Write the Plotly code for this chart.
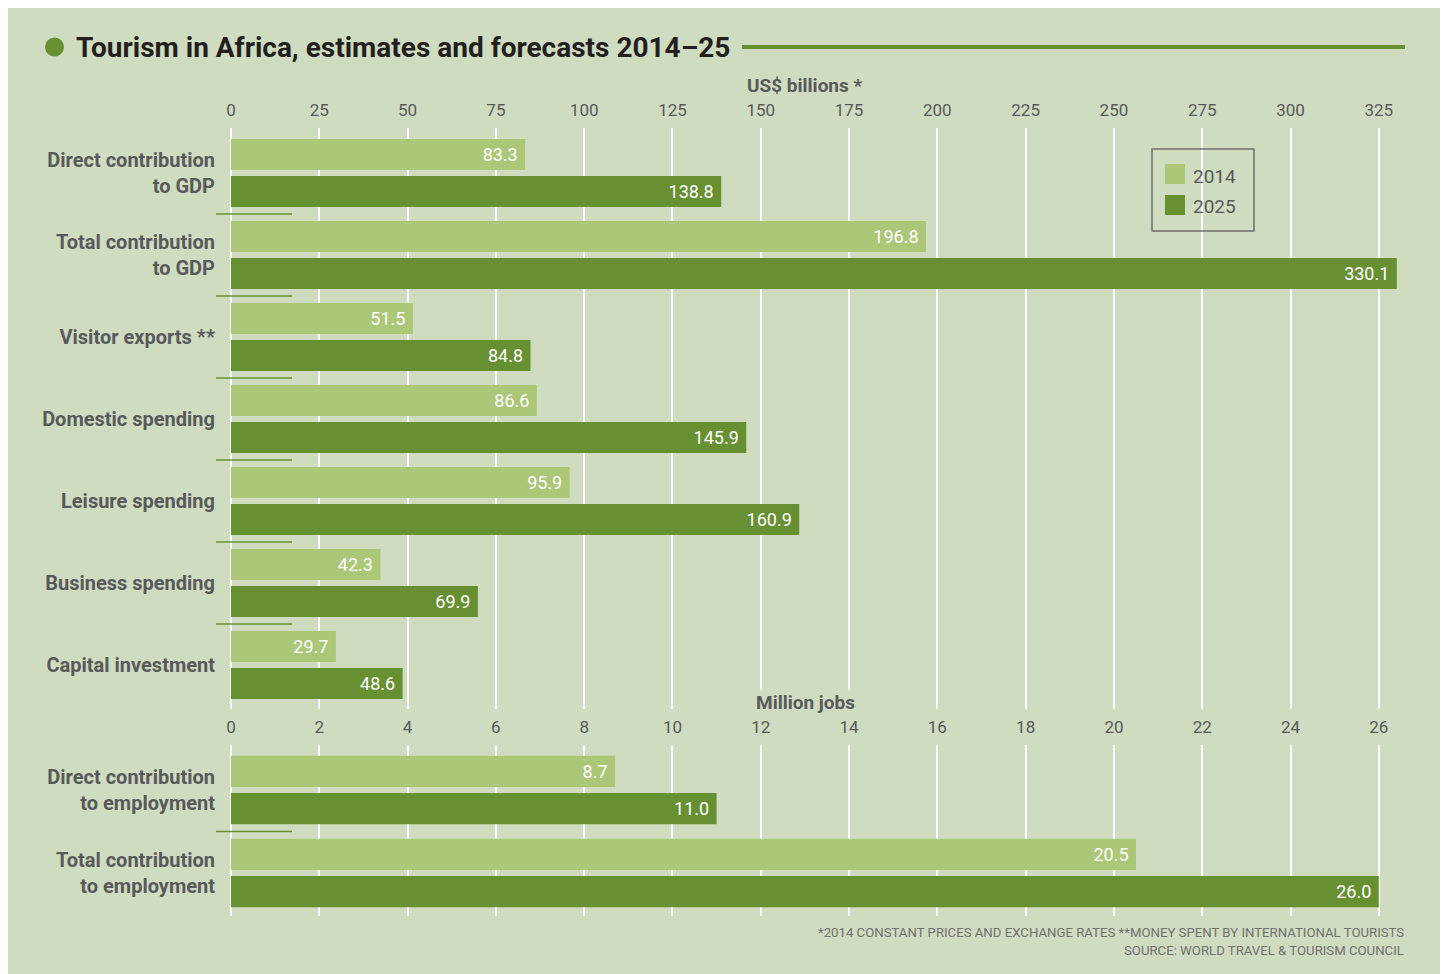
import plotly.graph_objects as go

# ---- data ----
gdp_categories = ["Direct contribution<br>to GDP", "Total contribution<br>to GDP", "Visitor exports **",
                  "Domestic spending", "Leisure spending", "Business spending", "Capital investment"]
gdp_2014 = [83.3, 196.8, 51.5, 86.6, 95.9, 42.3, 29.7]
gdp_2025 = [138.8, 330.1, 84.8, 145.9, 160.9, 69.9, 48.6]

job_categories = ["Direct contribution<br>to employment", "Total contribution<br>to employment"]
job_2014 = [8.7, 20.5]
job_2025 = [11.0, 26.0]

series_names = ["2014", "2025"]
title_text = "Tourism in Africa, estimates and forecasts 2014–25"
top_axis_title = "US$ billions *"
bottom_axis_title = "Million jobs"
footnote1 = "*2014 CONSTANT PRICES AND EXCHANGE RATES **MONEY SPENT BY INTERNATIONAL TOURISTS"
footnote2 = "SOURCE: WORLD TRAVEL & TOURISM COUNCIL"

# ---- style ----
OFF = 8  # page body margin
W, H = 1440, 966
ML = 231 - OFF
MR = W - (1400 - OFF)
PW = W - ML - MR
BG = "#d0dcc0"
LIGHT = "#abc777"
DARK = "#679033"
GRAY = "#58595b"
FONT = "Roboto, Lato, sans-serif"


def px(p):
    return (p - OFF - ML) / PW


def py(p):
    return 1 - (p - OFF) / H


top_max = 331
bottom_max = top_max * 26 / 325

fig = go.Figure()
colors = [LIGHT, DARK]
for name, vals, c in zip(series_names, [gdp_2014, gdp_2025], colors):
    fig.add_trace(go.Bar(
        x=vals, y=gdp_categories, orientation="h", name=name,
        marker=dict(color=c, line=dict(width=0)),
        texttemplate="%{x:.1f}\u00a0", textposition="inside", insidetextanchor="end",
        textangle=0, textfont=dict(family=FONT, size=18, color="white"),
        xaxis="x", yaxis="y", showlegend=False, hoverinfo="x+name"))
for name, vals, c in zip(series_names, [job_2014, job_2025], colors):
    fig.add_trace(go.Bar(
        x=vals, y=job_categories, orientation="h", name=name,
        marker=dict(color=c, line=dict(width=0)),
        texttemplate="%{x:.1f}\u00a0", textposition="inside", insidetextanchor="end",
        textangle=0, textfont=dict(family=FONT, size=18, color="white"),
        xaxis="x2", yaxis="y2", showlegend=False, hoverinfo="x+name"))

axis_common = dict(showgrid=True, gridcolor="white", gridwidth=2, zeroline=True,
                   zerolinecolor="white", zerolinewidth=2, showline=False, ticks="",
                   side="top", tickfont=dict(family=FONT, size=17, color=GRAY),
                   ticklabelstandoff=8, fixedrange=True)
ycommon = dict(showgrid=False, zeroline=False, showline=False, ticks="",
               tickfont=dict(family=FONT, size=20, color=GRAY, weight="bold"),
               ticklabelstandoff=15, fixedrange=True)

fig.update_layout(
    width=W, height=H,
    margin=dict(l=ML, r=MR, t=0, b=0),
    paper_bgcolor="white", plot_bgcolor="rgba(0,0,0,0)",
    barmode="group", bargap=0.1, bargroupgap=0.16,
    showlegend=False,
    xaxis=dict(range=[0, top_max], dtick=25, anchor="y", **axis_common),
    xaxis2=dict(range=[0, bottom_max], dtick=2, anchor="y2", **axis_common),
    yaxis=dict(domain=[py(709), py(128)], range=[6.537, -0.549], anchor="x", **ycommon),
    yaxis2=dict(domain=[py(916), py(745)], range=[1.518, -0.542], anchor="x2", **ycommon),
)

shapes = []
# background panel
shapes.append(dict(type="rect", xref="paper", yref="paper", x0=px(6), x1=px(1443), y0=py(980), y1=py(6),
                   fillcolor=BG, line=dict(width=0), layer="below"))
# title dot and rule
shapes.append(dict(type="circle", xref="paper", yref="paper", x0=px(45), x1=px(64), y0=py(56.5), y1=py(37.5),
                   fillcolor=DARK, line=dict(width=0)))
shapes.append(dict(type="line", xref="paper", yref="paper", x0=px(742), x1=px(1405), y0=py(47), y1=py(47),
                   line=dict(color=DARK, width=4)))
# separators between groups
for i in range(len(gdp_categories) - 1):
    shapes.append(dict(type="line", xref="paper", yref="y", x0=px(216), x1=px(292), y0=i + 0.5, y1=i + 0.5,
                       line=dict(color=DARK, width=1.5)))
for i in range(len(job_categories) - 1):
    shapes.append(dict(type="line", xref="paper", yref="y2", x0=px(216), x1=px(292), y0=i + 0.5, y1=i + 0.5,
                       line=dict(color=DARK, width=1.5)))
# manual legend
shapes.append(dict(type="rect", xref="paper", yref="paper", x0=px(1152), x1=px(1254), y0=py(231), y1=py(149),
                   fillcolor="rgba(0,0,0,0)", line=dict(color="#6d6e6b", width=1.5)))
for k, c in enumerate(colors):
    top = 164 + 31 * k
    shapes.append(dict(type="rect", xref="paper", yref="paper", x0=px(1165), x1=px(1185), y0=py(top + 20), y1=py(top),
                       fillcolor=c, line=dict(width=0)))
fig.update_layout(shapes=shapes)

ann = []
ann.append(dict(text=title_text, x=px(74), y=py(47), xref="paper", yref="paper", xanchor="left", yanchor="middle",
                showarrow=False, font=dict(family=FONT, size=28, color="#231f20", weight="bold")))
ann.append(dict(text=top_axis_title, x=px(805), y=py(85), xref="paper", yref="paper", xanchor="center",
                yanchor="middle", showarrow=False, font=dict(family=FONT, size=19, color=GRAY, weight="bold")))
ann.append(dict(text=bottom_axis_title, x=px(805.5), y=py(702), xref="paper", yref="paper", xanchor="center",
                yanchor="middle", showarrow=False, bgcolor=BG, borderpad=1,
                font=dict(family=FONT, size=19, color=GRAY, weight="bold")))
for k, name in enumerate(series_names):
    ann.append(dict(text=name, x=px(1191), y=py(176 + 31 * k), xref="paper", yref="paper", xanchor="left",
                    yanchor="middle", showarrow=False, font=dict(family=FONT, size=19, color=GRAY)))
ann.append(dict(text=footnote1, x=px(1406), y=py(932), xref="paper", yref="paper", xanchor="right",
                yanchor="middle", showarrow=False, font=dict(family=FONT, size=13.2, color="#707070")))
ann.append(dict(text=footnote2, x=px(1406), y=py(950), xref="paper", yref="paper", xanchor="right",
                yanchor="middle", showarrow=False, font=dict(family=FONT, size=13.2, color="#707070")))
fig.update_layout(annotations=ann)

fig.write_html("out.html")
